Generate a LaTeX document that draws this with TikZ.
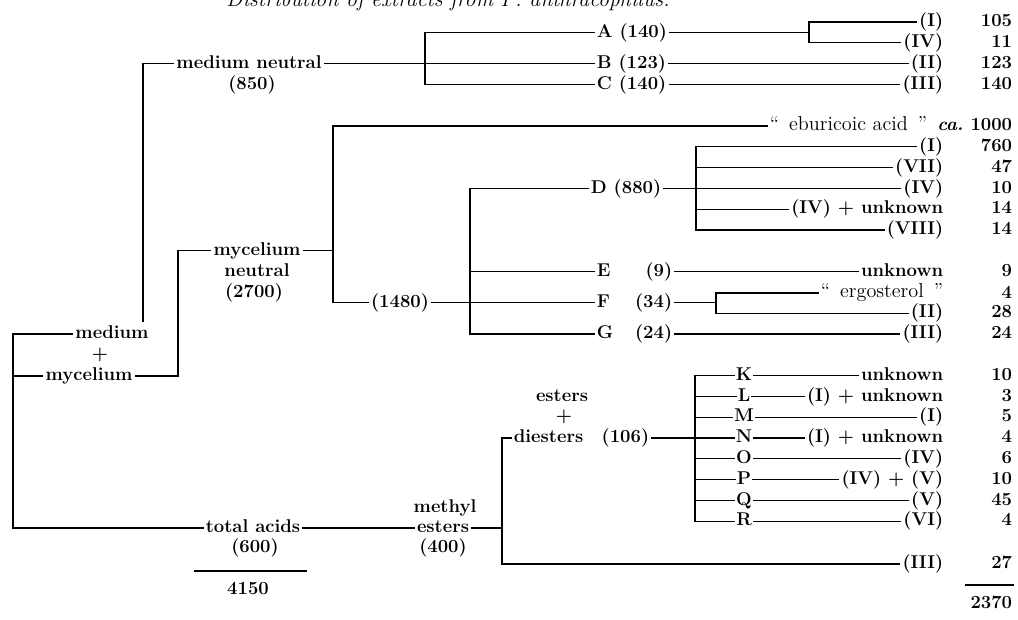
\documentclass[tikz,border=0pt]{standalone}
\usetikzlibrary{calc}
\tikzset{
  lbl/.style={font=\fontsize{11}{12}\selectfont\bfseries, inner sep=1.5pt,
              text height=8.25pt, text depth=2.75pt},
  lblm/.style={lbl, font=\fontsize{12}{13}\selectfont\mdseries},
  ltr/.style={lbl, inner sep=0.6pt},
  prod/.style={lbl, anchor=east},
  qty/.style={lbl, anchor=east},
  wire/.style={line width=0.7pt, line cap=rect},
}

\begin{document}
\begin{tikzpicture}[x=0.0209cm, y=-0.0209cm]
\useasboundingbox (0,0) rectangle (1018,619);

% ---------- heading, cut off by the top edge -----------------------------
\node[font=\fontsize{13}{14}\selectfont\itshape, anchor=base, inner sep=0pt]
   (head) at (448,6) {Distribution of extracts from P.~anthracophilus.};

% ---------- right-hand columns: product and amount -----------------------
\foreach \nm/\y/\p/\q in {a1/22/(I)/105, a2/42.8/(IV)/11, B/63.6/(II)/123,
    C/84.4/(III)/140, d1/146.8/(I)/760, d2/167.6/(VII)/47, d3/188.4/(IV)/10,
    d4/209.2/(IV) + unknown/14, d5/230/(VIII)/14, E/271.6/unknown/9,
    f2/313.2/(II)/28, G/334/(III)/24, K/375.6/unknown/10,
    L/396.4/(I) + unknown/3, M/417.2/(I)/5, N/438/(I) + unknown/4,
    O/458.8/(IV)/6, P/479.6/(IV) + (V)/10, Q/500.4/(V)/45, R/521.2/(VI)/4,
    x/564/(III)/27}{
  \node[prod] (p\nm) at (946,\y) {\p};
  \node[qty]  (q\nm) at (1015,\y) {\q};}
\node[lblm, anchor=east] (peb) at (930,126)
   {\textquotedblleft\enspace eburicoic acid\enspace\textquotedblright};
\node[qty] (qeb) at (1015,126) {\textit{ca.}\ 1000};
\node[lblm, anchor=east] (pf1) at (946,293)
   {\textquotedblleft\enspace ergosterol\enspace\textquotedblright};
\node[qty] (qf1) at (1015,294) {4};

% ---------- the starting material ---------------------------------------
\node[lbl] (med) at (112,334) {medium};
\node[lbl] (mpl) at (100,355) {+};
\node[lbl] (myc) at (89,376) {mycelium};
\coordinate (root) at (13,334);

\node[lbl] (mneu)  at (249,63.6)  {medium neutral};
\node[lbl] (m850)  at (252,84.4)  {(850)};
\node[lbl] (cneu)  at (257,250.8) {mycelium};
\node[lbl] (cneu2) at (257,271.6) {neutral};
\node[lbl] (c2700) at (254,292.4) {(2700)};
\node[lbl] (tot)   at (253,528)   {total acids};
\node[lbl] (t600)  at (255,548)   {(600)};
\node[lbl] (tsum)  at (248,590)   {4150};

\coordinate (jmn) at (143,63.6);
\coordinate (jcn) at (178,250.8);
\draw[wire] (med.west) -- (root) |- (tot.west);
\draw[wire] (root |- myc.west) -- (myc.west);
\draw[wire] (jmn |- med.north) -- (jmn) -- (mneu.west);
\draw[wire] (myc.east) -| (jcn) -- (cneu.west);

% ---------- medium neutral ------------------------------------------------
\node[lbl, anchor=west] (A) at (594,32.4) {A (140)};
\node[lbl, anchor=west] (B) at (594,63.6) {B (123)};
\node[lbl, anchor=west] (C) at (594,84.4) {C (140)};
\coordinate (jabc) at (425,63.6);
\coordinate (jA) at (809,32.4);
\draw[wire] (mneu.east) -- (jabc);
\draw[wire] (A.west) -| (jabc) |- (C.west);
\draw[wire] (jabc) -- (B.west);
\draw[wire] (A.east) -- (jA);
\draw[wire] (pa1.west) -| (jA) |- (pa2.west);
\draw[wire] (B.east) -- (pB.west);
\draw[wire] (C.east) -- (pC.west);

% ---------- mycelium neutral ----------------------------------------------
\node[lbl] (n1480) at (400,302.8) {(1480)};
\coordinate (jmy) at (333,250.8);
\coordinate (jdg) at (470,302.8);
\draw[wire] (cneu.east) -- (jmy);
\draw[wire] (peb.west) -| (jmy) |- (n1480.west);
\draw[wire] (n1480.east) -- (jdg);

\node[lbl, anchor=west] (D) at (588,188.4) {D (880)};
\foreach \nm/\y/\n in {E/271.6/9, F/302.8/34, G/334/24}{
  \node[lbl, anchor=west] (\nm) at (594,\y) {\nm};
  \node[lbl, anchor=east] (\nm-w) at (675,\y) {(\n)};}
\draw[wire] (D.west) -| (jdg) |- (G.west);
\draw[wire] (jdg |- E.west) -- (E.west);
\draw[wire] (jdg) -- (F.west);

\coordinate (jD) at (696,188.4);
\draw[wire] (D.east) -- (jD);
\draw[wire] (pd1.west) -| (jD) |- (pd5.west);
\foreach \rw in {d2,d4} \draw[wire] (jD |- p\rw.west) -- (p\rw.west);
\draw[wire] (jD) -- (pd3.west);

\draw[wire] (E-w.east) -- (pE.west);
\coordinate (jF) at (716,302.8);
\draw[wire] (F-w.east) -- (jF);
\draw[wire] (pf1.west) -| (jF) |- (pf2.west);
\draw[wire] (G-w.east) -- (pG.west);

% ---------- total acids -----------------------------------------------------
\node[lbl] (meth) at (445,508) {methyl};
\node[lbl] (mest) at (443,528) {esters};
\node[lbl] (m400) at (443,548) {(400)};
\coordinate (jme) at (502,528);
\draw[wire] (tot.east) -- (mest.west);
\draw[wire] (mest.east) -- (jme);

\node[lbl] (est) at (562,396.4) {esters};
\node[lbl] (epl) at (564,417.2) {+};
\node[lbl, anchor=west] (dies) at (511,438) {diesters\quad(106)};
\draw[wire] (dies.west) -| (jme) |- (px.west);

\coordinate (jKR) at (695,438);
\draw[wire] (dies.east) -- (jKR);
\foreach \nm/\y in {K/375.6, L/396.4, M/417.2, N/438, O/458.8, P/479.6,
    Q/500.4, R/521.2}{
  \node[ltr] (\nm) at (744,\y) {\nm};
  \draw[wire] (jKR |- \nm.west) -- (\nm.west);
  \draw[wire] (\nm.east) -- (p\nm.west);}
\draw[wire] (jKR |- K.west) -- (jKR |- R.west);

% ---------- sums ------------------------------------------------------------
\coordinate (lsl) at (195,571); \coordinate (lsr) at (306,571);
\draw[wire] (lsl) -- (lsr);
\node[qty] (rsum) at (1015,604) {2370};
\coordinate (rsl) at (966,585); \coordinate (rsr) at (1013,585);
\draw[wire] (rsl) -- (rsr);
\end{tikzpicture}
\end{document}
